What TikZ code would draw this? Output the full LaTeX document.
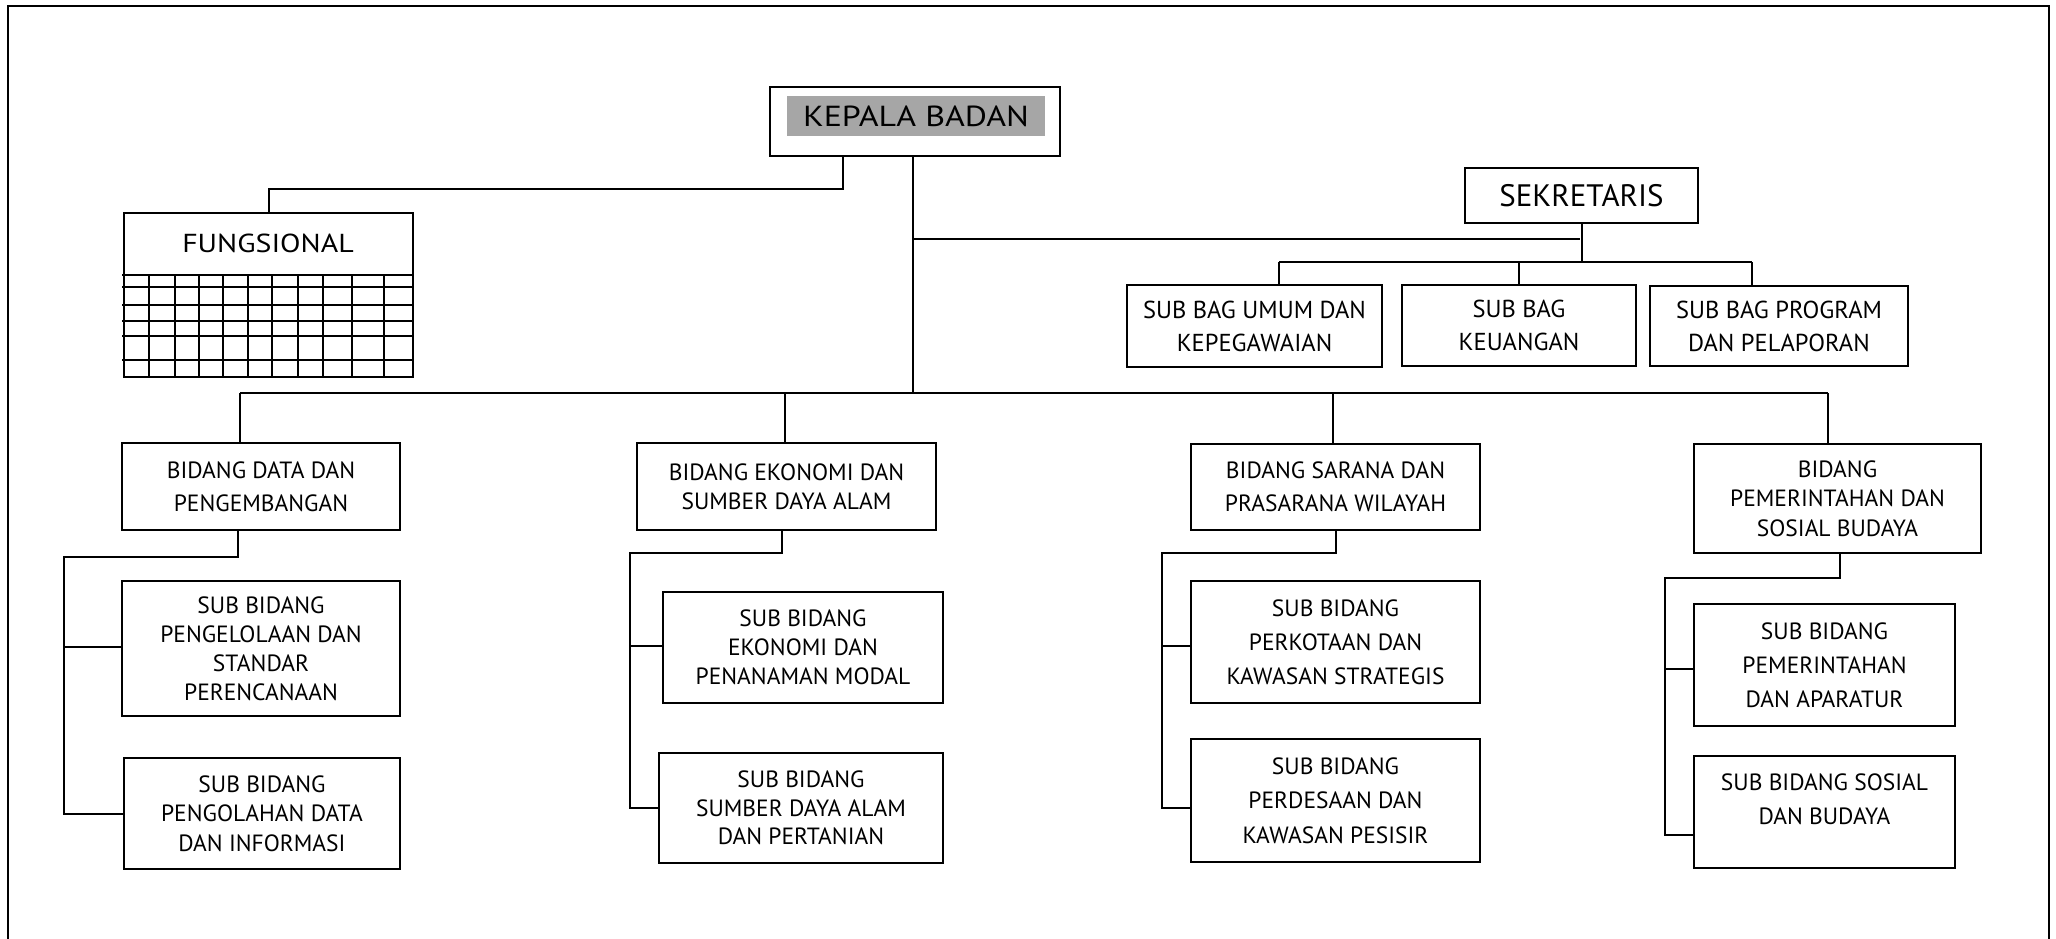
\documentclass[tikz,border=0pt]{standalone}
\usepackage{fontspec}
\setmainfont{PT Sans}
\usepackage{graphicx}
\definecolor{kgray}{RGB}{166,166,166}
\begin{document}
\begin{tikzpicture}[x=1pt,y=-1pt,
  box/.style={draw=black,line width=1.6pt,inner sep=0pt,align=center},
  ls/.style={font=\fontsize{23.5}{#1}\selectfont},
  conn/.style={line width=2pt},
  gridl/.style={line width=1.3pt}]
\useasboundingbox (0,0) rectangle (2056,939);
% outer frame
\draw[line width=2.2pt] (8,960) -- (8,6) -- (2049,6) -- (2049,960);

% top
\node[box,minimum width=290pt,minimum height=69pt] (kepala) at (915,121.5) {};
\node[fill=kgray,minimum width=258pt,minimum height=40pt,inner sep=0pt,font=\fontsize{29}{30}\selectfont] (kepalalbl) at (916,116) {\scalebox{1.17}[1]{KEPALA BADAN}};

\node[box,minimum width=289pt,minimum height=164pt] (fung) at (268.5,295) {};
\node[inner sep=0pt,font=\fontsize{26}{30}\selectfont] (funglbl) at (268,243) {\scalebox{1.15}[1]{FUNGSIONAL}};
\foreach \yy in {275,287,305,321,336,360} \draw[gridl] (122,\yy) -- (412,\yy);
\foreach \xx in {149,175,199,223,248,272,298,323,352,384} \draw[gridl] (\xx,275) -- (\xx,377);

\node[box,minimum width=233pt,minimum height=55pt,font=\fontsize{31}{30}\selectfont] (sek) at (1581.5,195.5) {SEKRETARIS};

\node[box,minimum width=255pt,minimum height=82pt,font=\fontsize{24.5}{33}\selectfont] (umum) at (1254.5,326) {SUB BAG UMUM DAN\\KEPEGAWAIAN};
\node[box,minimum width=234pt,minimum height=81pt,font=\fontsize{24.5}{33}\selectfont] (keu) at (1519,325.5) {SUB BAG\\KEUANGAN};
\node[box,minimum width=258pt,minimum height=80pt,font=\fontsize{24.5}{33}\selectfont] (prog) at (1779,326) {SUB BAG PROGRAM\\DAN PELAPORAN};

% bidang
\node[box,ls=33,minimum width=278pt,minimum height=87pt] (b1) at (261,486.5) {BIDANG DATA DAN\\PENGEMBANGAN};
\node[box,ls=29,minimum width=299pt,minimum height=87pt] (b2) at (786.5,486.5) {BIDANG EKONOMI DAN\\SUMBER DAYA ALAM};
\node[box,ls=33,minimum width=289pt,minimum height=86pt] (b3) at (1335.5,487) {BIDANG SARANA DAN\\PRASARANA WILAYAH};
\node[box,ls=29.5,minimum width=287pt,minimum height=109pt] (b4) at (1837.5,498.5) {BIDANG\\PEMERINTAHAN DAN\\SOSIAL BUDAYA};

% sub bidang
\node[box,ls=29,minimum width=278pt,minimum height=135pt] (s11) at (261,648.5) {SUB BIDANG\\PENGELOLAAN DAN\\STANDAR\\PERENCANAAN};
\node[box,ls=29.5,minimum width=276pt,minimum height=111pt] (s12) at (262,813.5) {SUB BIDANG\\PENGOLAHAN DATA\\DAN INFORMASI};
\node[box,ls=29,minimum width=280pt,minimum height=111pt] (s21) at (803,647.5) {SUB BIDANG\\EKONOMI DAN\\PENANAMAN MODAL};
\node[box,ls=28.5,minimum width=284pt,minimum height=110pt] (s22) at (801,808) {SUB BIDANG\\SUMBER DAYA ALAM\\DAN PERTANIAN};
\node[box,ls=34,minimum width=289pt,minimum height=122pt] (s31) at (1335.5,642) {SUB BIDANG\\PERKOTAAN DAN\\KAWASAN STRATEGIS};
\node[box,ls=34.5,minimum width=289pt,minimum height=123pt] (s32) at (1335.5,800.5) {SUB BIDANG\\PERDESAAN DAN\\KAWASAN PESISIR};
\node[box,ls=34,minimum width=261pt,minimum height=122pt] (s41) at (1824.5,665) {SUB BIDANG\\PEMERINTAHAN\\DAN APARATUR};
\node[box,minimum width=261pt,minimum height=112pt] (s42) at (1824.5,812) {};
\node[ls=34,align=center,inner sep=0pt] (s42lbl) at (1824.5,799) {SUB BIDANG SOSIAL\\DAN BUDAYA};

% connectors top
\coordinate (fk) at (843,189);
\draw[conn] (kepala.south -| fk) -- (fk) -| (fung.north);
\coordinate (tr) at (913,393);
\draw[conn] (kepala.south -| tr) -- (tr);
\coordinate (sj) at (1580,239);
\draw[conn] (sj -| tr) -- (sj);
\coordinate (sbl) at (1279,262);
\coordinate (sbr) at (1752,262);
\draw[conn] (sek.south) -- (sek.south |- sbl);
\draw[conn] (sbl) -- (sbr);
\draw[conn] (sbl) -- (sbl |- umum.north);
\draw[conn] (keu.north |- sbl) -- (keu.north);
\draw[conn] (sbr) -- (sbr |- prog.north);

% main bus
\coordinate (d1) at (240,393);
\coordinate (d2) at (785,393);
\coordinate (d3) at (1333,393);
\coordinate (d4) at (1828,393);
\draw[conn] (d1) -- (d4);
\draw[conn] (d1) -- (d1 |- b1.north);
\draw[conn] (d2) -- (d2 |- b2.north);
\draw[conn] (d3) -- (d3 |- b3.north);
\draw[conn] (d4) -- (d4 |- b4.north);

% column 1
\coordinate (c1t) at (238,557);
\coordinate (c1) at (64,557);
\draw[conn] (c1t |- b1.south) -- (c1t) -- (c1) -- (c1 |- s12.west) -- (s12.west);
\draw[conn] (c1 |- 0,647) -- (s11.west |- 0,647);
% column 2
\coordinate (c2t) at (782,553);
\coordinate (c2) at (630,553);
\draw[conn] (c2t |- b2.south) -- (c2t) -- (c2) -- (c2 |- 0,808) -- (s22.west |- 0,808);
\draw[conn] (c2 |- 0,646) -- (s21.west |- 0,646);
% column 3
\coordinate (c3t) at (1336,553);
\coordinate (c3) at (1162,553);
\draw[conn] (c3t |- b3.south) -- (c3t) -- (c3) -- (c3 |- 0,808) -- (s32.west |- 0,808);
\draw[conn] (c3 |- 0,646) -- (s31.west |- 0,646);
% column 4
\coordinate (c4t) at (1840,578);
\coordinate (c4) at (1665,578);
\draw[conn] (c4t |- b4.south) -- (c4t) -- (c4) -- (c4 |- 0,835) -- (s42.west |- 0,835);
\draw[conn] (c4 |- 0,669) -- (s41.west |- 0,669);
\end{tikzpicture}
\end{document}
